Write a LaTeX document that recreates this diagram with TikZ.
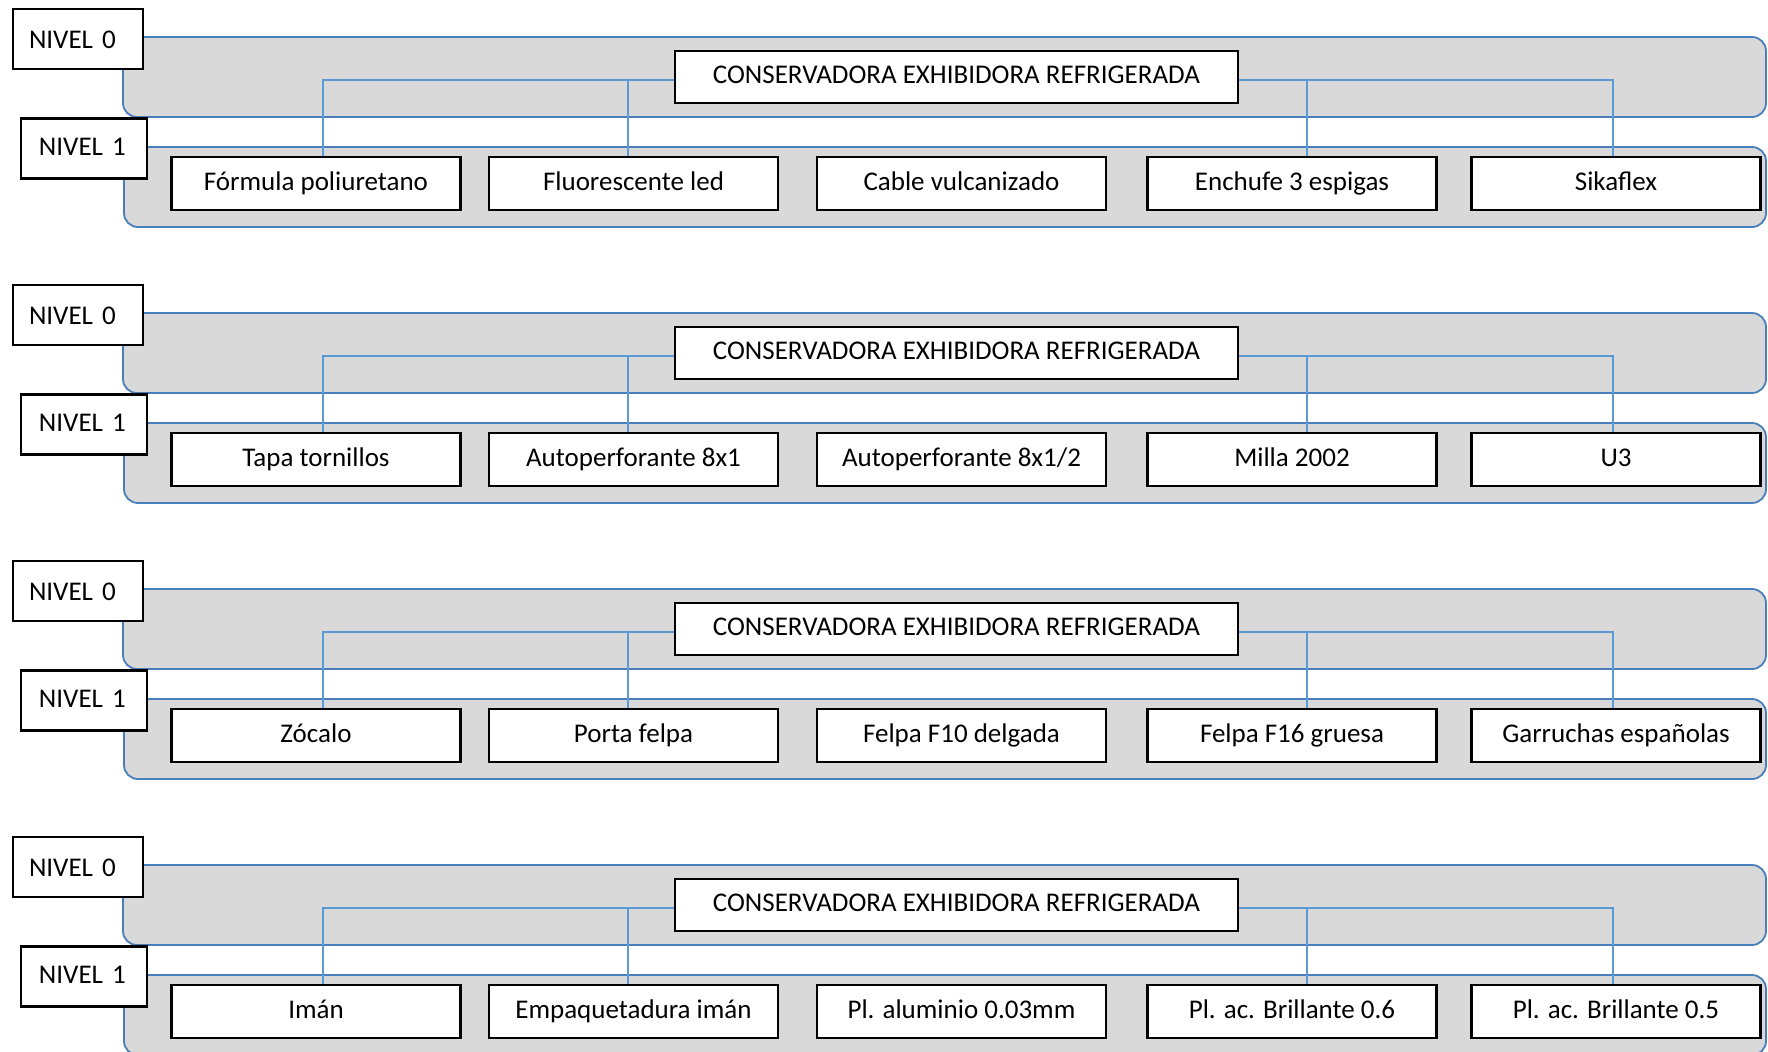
\documentclass[tikz,border=0pt]{standalone}
\usepackage{fontspec}
\setmainfont{Carlito}
\definecolor{bandfill}{HTML}{D9D9D9}
\definecolor{bandline}{HTML}{4A7EBB}
\definecolor{linkblue}{HTML}{5B9BD5}

\begin{document}
\begin{tikzpicture}[x=0.5pt,y=-0.5pt,font=\fontsize{13.5}{16}\selectfont,
  banda/.style={fill=bandfill,draw=bandline,line width=0.9pt,rounded corners=7pt},
  nivel/.style={draw,fill=white,line width=1.1pt,inner ysep=0pt,align=left,text height=9.5pt,text depth=3pt,minimum height=30pt},
  raiz/.style={draw,fill=white,line width=1.1pt,inner sep=0pt,text height=9.5pt,text depth=3pt,minimum width=281.5pt,minimum height=26pt},
  hijo/.style={draw,fill=white,line width=1.1pt,inner sep=0pt,text height=9.5pt,text depth=3pt,minimum width=144.5pt,minimum height=26.5pt},
  enlace/.style={linkblue,line width=0.9pt}]
  \useasboundingbox (0,0) rectangle (1768,1051);
  % un bloque por cada juego de piezas
  \foreach \k/\ta/\tb/\tc/\td/\te in {
    0/Fórmula poliuretano/Fluorescente led/Cable vulcanizado/Enchufe 3 espigas/Sikaflex,
    1/Tapa tornillos/Autoperforante 8x1/{Autoperforante 8x1/2}/Milla 2002/U3,
    2/Zócalo/Porta felpa/Felpa F10 delgada/Felpa F16 gruesa/Garruchas españolas,
    3/Imán/Empaquetadura imán/Pl. aluminio 0.03mm/Pl. ac. Brillante 0.6/Pl. ac. Brillante 0.5}{
    \begin{scope}[shift={(0,276*\k)}]
      \draw[banda] (123,37) rectangle (1766,117);
      \draw[banda] (124,147) rectangle (1766,227);
      \node[nivel,text width=49pt,inner xsep=8pt,text height=11pt,text depth=1.5pt] (n0-\k) at (78,39) {\mbox{NIVEL 0}};
      \node[nivel,text width=45pt,inner xsep=9pt] (n1-\k) at (84,148.5) {\mbox{NIVEL 1}};
      \node[raiz] (r-\k) at (956.5,77) {CONSERVADORA EXHIBIDORA REFRIGERADA};
      \foreach \i/\x/\t in {1/316/\ta,2/633.5/\tb,3/961.5/\tc,4/1292/\td,5/1616/\te}
        \node[hijo] (h\k-\i) at (\x,183.5) {\t};
      % ramas
      \draw[enlace] ([xshift=3.4pt]h\k-1.north) |- ([yshift=-1.6pt]r-\k.west)
                    ([xshift=-2.8pt]h\k-2.north) |- ([yshift=-1.6pt]r-\k.west);
      \draw[enlace] ([xshift=7.5pt]h\k-4.north) |- ([yshift=-1.6pt]r-\k.east)
                    ([xshift=-1.7pt]h\k-5.north) |- ([yshift=-1.6pt]r-\k.east);
    \end{scope}}
\end{tikzpicture}
\end{document}
